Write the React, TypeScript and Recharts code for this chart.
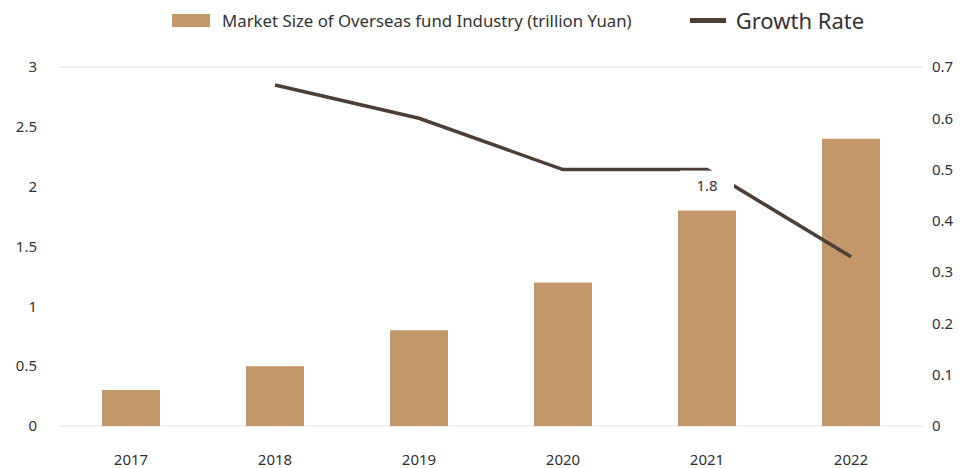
import { Bar, CartesianGrid, ComposedChart, LabelList, Legend, Line, XAxis, YAxis } from 'recharts';

const years = ['2017', '2018', '2019', '2020', '2021', '2022'];
const marketSize = [0.3, 0.5, 0.8, 1.2, 1.8, 2.4];
const growthRate: (number | null)[] = [null, 0.665, 0.6, 0.5, 0.5, 0.33];
const leftTicks = [0, 0.5, 1, 1.5, 2, 2.5, 3];
const rightTicks = [0, 0.1, 0.2, 0.3, 0.4, 0.5, 0.6, 0.7];
const labelledYear = '2021';

const data = years.map((year, i) => ({ year, size: marketSize[i], rate: growthRate[i] }));

const BAR = '#c4976a';
const LINE = '#4d3f36';
const FONT = '"Noto Sans", "Open Sans", sans-serif';

function LegendBox() {
  return (
    <div style={{ display: 'flex', alignItems: 'center', fontFamily: FONT, color: '#333', height: 40 }}>
      <span style={{ display: 'inline-block', width: 38, height: 13, background: BAR, marginLeft: 172 }} />
      <span style={{ fontSize: 16.8, marginLeft: 12, whiteSpace: 'nowrap' }}>
        Market Size of Overseas fund Industry (trillion Yuan)
      </span>
      <span style={{ display: 'inline-block', width: 36, height: 5, background: LINE, marginLeft: 58 }} />
      <span style={{ fontSize: 22, marginLeft: 10, whiteSpace: 'nowrap' }}>Growth Rate</span>
    </div>
  );
}

function SizeLabel(props: any) {
  const { x, y, value, index } = props;
  if (years[index] !== labelledYear) return null;
  const cy = y - 25;
  return (
    <g>
      <rect x={x - 27} y={cy - 15} width={54} height={29} fill="#fff" />
      <text x={x} y={cy} dy="0.35em" textAnchor="middle" fontSize={15} fill="#333" fontFamily={FONT}>
        {value}
      </text>
    </g>
  );
}

export default function App() {
  return (
    <div style={{ position: 'absolute', left: 0, top: 0, width: 963, height: 468, background: '#fff' }}>
      <ComposedChart width={963} height={468} data={data} margin={{ top: 27, right: 0, bottom: 5, left: 0 }}>
        <Legend verticalAlign="top" wrapperStyle={{ top: 0, left: 0, width: 963 }} content={() => <LegendBox />} />
        <CartesianGrid vertical={false} stroke="#e2e2e2" />
        <XAxis
          dataKey="year"
          axisLine={false}
          tickLine={false}
          tickMargin={22}
          height={37}
          tick={{ fontSize: 15, fill: '#333', fontFamily: FONT }}
        />
        <YAxis
          yAxisId="left"
          domain={[0, 3]}
          ticks={leftTicks}
          axisLine={false}
          tickLine={false}
          tickMargin={16}
          width={59}
          tick={{ fontSize: 15, fill: '#333', fontFamily: FONT }}
        />
        <YAxis
          yAxisId="right"
          orientation="right"
          domain={[0, 0.7]}
          ticks={rightTicks}
          axisLine={false}
          tickLine={false}
          tickMargin={3}
          width={40}
          tick={{ fontSize: 15, fill: '#333', fontFamily: FONT, textAnchor: 'start' }}
        />
        <Bar yAxisId="left" dataKey="size" fill={BAR} barSize={58} isAnimationActive={false} />
        <Line
          yAxisId="right"
          dataKey="rate"
          stroke={LINE}
          strokeWidth={3.5}
          dot={false}
          type="linear"
          connectNulls={false}
          isAnimationActive={false}
        />
        <Line
          yAxisId="left"
          dataKey="size"
          stroke="none"
          dot={false}
          activeDot={false}
          legendType="none"
          isAnimationActive={false}
        >
          <LabelList dataKey="size" content={<SizeLabel />} />
        </Line>
      </ComposedChart>
    </div>
  );
}
